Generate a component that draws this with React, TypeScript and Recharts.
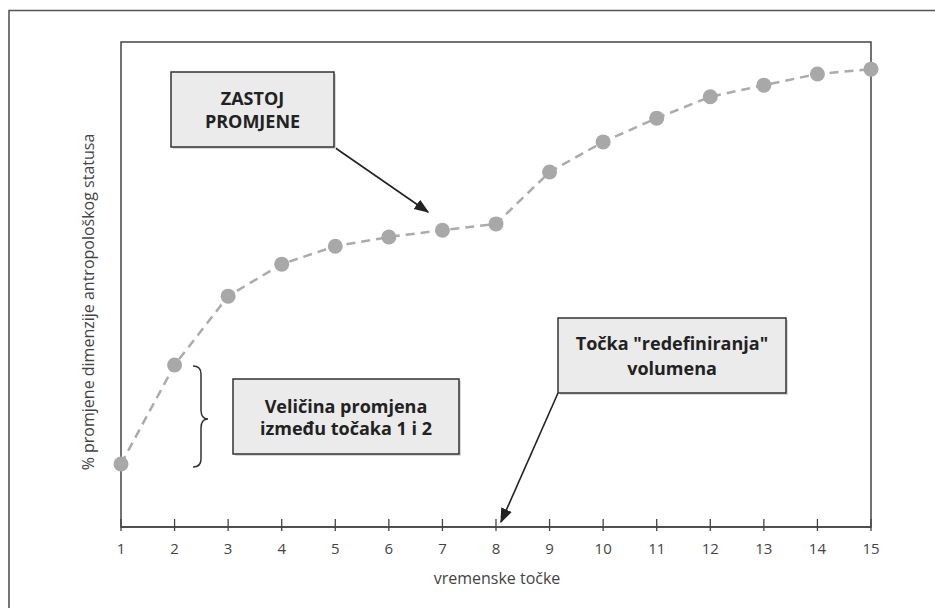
import React from "react";
import { LineChart, Line, XAxis, YAxis, ReferenceArea } from "recharts";

const timePoints = [1, 2, 3, 4, 5, 6, 7, 8, 9, 10, 11, 12, 13, 14, 15];
const changeValues = [13.0, 33.4, 47.6, 54.2, 57.9, 59.8, 61.2, 62.5, 73.2, 79.4, 84.3, 88.7, 91.1, 93.4, 94.4];
const xTicks = [1, 2, 3, 4, 5, 6, 7, 8, 9, 10, 11, 12, 13, 14, 15];

const data = timePoints.map((t, i) => ({ t, v: changeValues[i] }));

const FONT = "'Open Sans', 'DejaVu Sans', sans-serif";

const Tick = (props: any) => {
  const { x, y, payload } = props;
  return (
    <g>
      <line x1={x} x2={x} y1={y - 8} y2={y + 4} stroke="#444" strokeWidth={1.3} />
      <text x={x} y={y + 27} textAnchor="middle" fontSize={15} fill="#444" fontFamily={FONT}>
        {payload.value}
      </text>
    </g>
  );
};

const Box = ({ x, y, w, h, lines, lh }: { x: number; y: number; w: number; h: number; lines: string[]; lh: number }) => {
  const cy = y + h / 2;
  const start = cy - ((lines.length - 1) * lh) / 2;
  return (
    <g>
      <rect x={x + 2} y={y + 2} width={w} height={h} fill="#d8d8d8" />
      <rect x={x} y={y} width={w} height={h} fill="#ebebeb" stroke="#333" strokeWidth={1.5} />
      {lines.map((l, i) => (
        <text
          key={i}
          x={x + w / 2}
          y={start + i * lh}
          textAnchor="middle"
          dominantBaseline="central"
          fontSize={18}
          fontWeight={700}
          fill="#222"
          fontFamily={FONT}
        >
          {l}
        </text>
      ))}
    </g>
  );
};

export default function App() {
  return (
    <div style={{ position: "absolute", left: 0, top: 0, width: 935, height: 608, background: "#fff" }}>
      <LineChart
        width={935}
        height={608}
        data={data}
        margin={{ top: 42, right: 64, bottom: 51, left: 121 }}
      >
        <ReferenceArea x1={1} x2={15} y1={0} y2={100} fill="none" stroke="#444" strokeWidth={1.5} ifOverflow="visible" />
        <XAxis
          dataKey="t"
          type="number"
          domain={[1, 15]}
          ticks={xTicks}
          height={30}
          tickSize={0}
          tickMargin={0}
          axisLine={{ stroke: "#444", strokeWidth: 1.5 }}
          tickLine={false}
          tick={<Tick />}
          interval={0}
        />
        <YAxis hide domain={[0, 100]} type="number" />
        <Line
          type="linear"
          dataKey="v"
          stroke="#ababab"
          strokeWidth={2.5}
          strokeDasharray="9 6"
          dot={{ r: 7.5, fill: "#a8a8a8", stroke: "none" }}
          activeDot={false}
          isAnimationActive={false}
        />
      </LineChart>
      <svg
        width={935}
        height={608}
        style={{ position: "absolute", left: 0, top: 0, pointerEvents: "none" }}
      >
        <defs>
          <marker id="ah2" viewBox="0 0 10 10" refX="9" refY="5" markerWidth="15" markerHeight="15" orient="auto" markerUnits="userSpaceOnUse">
            <path d="M0,1.2 L10,5 L0,8.8 z" fill="#222" />
          </marker>
        </defs>
        <path d="M9 608 V10.5 H935" fill="none" stroke="#555" strokeWidth={1.6} />
        <line x1={334} y1={147} x2={428} y2={212} stroke="#222" strokeWidth={1.6} markerEnd="url(#ah2)" />
        <line x1={558} y1={393} x2={501} y2={522} stroke="#222" strokeWidth={1.6} markerEnd="url(#ah2)" />
        <Box x={171} y={72} w={163} h={75} lh={23} lines={["ZASTOJ", "PROMJENE"]} />
        <Box x={233} y={379} w={226} h={75} lh={22} lines={["Veličina promjena", "između točaka 1 i 2"]} />
        <Box x={558} y={318} w={228} h={75} lh={25} lines={["Točka \"redefiniranja\"", "volumena"]} />
        <path
          d="M193 366 Q201 366 201 374 V410 Q201 419 208 419 Q201 419 201 428 V459 Q201 467 193 467"
          fill="none"
          stroke="#333"
          strokeWidth={1.5}
        />
        <text
          x={497}
          y={584}
          textAnchor="middle"
          fontSize={16}
          fill="#444"
          fontFamily={FONT}
        >
          vremenske točke
        </text>
        <text
          transform="translate(88 302) rotate(-90)"
          textAnchor="middle"
          dominantBaseline="central"
          fontSize={16}
          fill="#444"
          fontFamily={FONT}
        >
          % promjene dimenzije antropološkog statusa
        </text>
      </svg>
    </div>
  );
}
